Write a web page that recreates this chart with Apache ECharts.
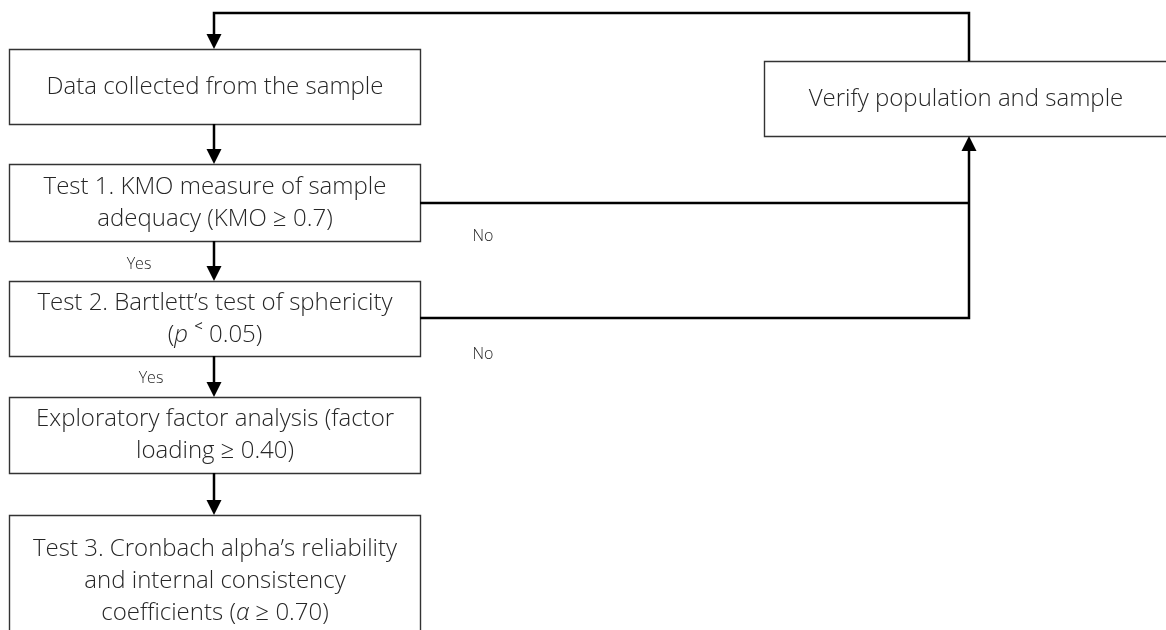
<!DOCTYPE html>
<html>
<head>
<meta charset="utf-8">
<script src="https://cdn.jsdelivr.net/npm/echarts@6/dist/echarts.min.js"></script>
<style>
html,body{margin:0;padding:0;background:#fff;}
#chart{width:1166px;height:630px;}
</style>
</head>
<body>
<div id="chart"></div>
<script>
// Flowchart content
const nodeTexts = [
  'Data collected from the sample',
  'Test 1. KMO measure of sample\nadequacy (KMO ≥ 0.7)',
  'Test 2. Bartlett’s test of sphericity\n({i|p} {s|<} 0.05)',
  'Exploratory factor analysis (factor\nloading ≥ 0.40)',
  'Test 3. Cronbach alpha’s reliability\nand internal consistency\ncoefficients ({i|α} ≥ 0.70)',
  'Verify population and sample'
];
// layout of boxes: [x0, y0, x1, y1]
const nodeBoxes = [
  [9, 49, 420, 124],
  [9, 164, 420, 241],
  [9, 281, 420, 356],
  [9, 397, 420, 473],
  [9, 515, 420, 646],
  [764, 61, 1167, 136]
];
// connector paths and whether they end with an arrow
const connectorPaths = [
  [[214, 124], [214, 164]],
  [[214, 241], [214, 281]],
  [[214, 356], [214, 397]],
  [[214, 473], [214, 515]],
  [[969, 61], [969, 13], [214, 13], [214, 49]],
  [[420, 203], [969, 203]],
  [[420, 318], [969, 318], [969, 136]]
];
const connectorArrow = [true, true, true, true, true, false, true];
// edge labels
const edgeLabelTexts = ['Yes', 'Yes', 'No', 'No'];
const edgeLabelPos = [[139, 264], [151, 378], [483, 236], [483, 354]];

const FONT = '"Open Sans", "Noto Sans", sans-serif';
const TEXT_COLOR = '#262626';

const chart = echarts.init(document.getElementById('chart'), null, {renderer: 'canvas'});

const option = {
  backgroundColor: '#ffffff',
  animation: false,
  grid: {left: 0, right: 0, top: 0, bottom: 0},
  xAxis: {type: 'value', min: 0, max: 1166, show: false},
  yAxis: {type: 'value', min: 0, max: 630, inverse: true, show: false},
  series: [
    {
      type: 'custom',
      name: 'boxes',
      coordinateSystem: 'cartesian2d',
      clip: false,
      data: nodeBoxes.map((b, i) => [b[0], b[1], b[2], b[3], i]),
      renderItem: function (params, api) {
        const p0 = api.coord([api.value(0), api.value(1)]);
        const p1 = api.coord([api.value(2), api.value(3)]);
        const idx = api.value(4);
        return {
          type: 'rect',
          shape: {x: p0[0] + 0.5, y: p0[1] + 0.5, width: p1[0] - p0[0], height: p1[1] - p0[1]},
          style: {fill: '#ffffff', stroke: '#333333', lineWidth: 1.4},
          textContent: {
            style: {
              text: nodeTexts[idx],
              font: '300 24px ' + FONT,
              fill: TEXT_COLOR,
              align: 'center',
              verticalAlign: 'middle',
              lineHeight: 32,
              rich: {
                i: {fontStyle: 'italic', fontWeight: 300, fontSize: 24, fontFamily: FONT, fill: TEXT_COLOR, lineHeight: 32},
                s: {fontWeight: 400, fontSize: 15, fontFamily: FONT, fill: TEXT_COLOR, lineHeight: 20, verticalAlign: 'top'}
              }
            }
          },
          textConfig: {position: 'inside'}
        };
      }
    },
    {
      type: 'custom',
      name: 'connectors',
      coordinateSystem: 'cartesian2d',
      clip: false,
      data: connectorPaths.map((p, i) => [p[0][0], p[0][1], i]),
      renderItem: function (params, api) {
        const idx = api.value(2);
        const pts = connectorPaths[idx].map(pt => api.coord(pt));
        const children = [];
        let linePts = pts.slice();
        if (connectorArrow[idx]) {
          const a = pts[pts.length - 2], b = pts[pts.length - 1];
          const dx = b[0] - a[0], dy = b[1] - a[1];
          const len = Math.sqrt(dx * dx + dy * dy);
          const ux = dx / len, uy = dy / len;
          const hl = 15, hw = 7.5;
          const base = [b[0] - ux * hl, b[1] - uy * hl];
          linePts[linePts.length - 1] = [b[0] - ux * (hl - 2), b[1] - uy * (hl - 2)];
          children.push({
            type: 'polygon',
            shape: {points: [b, [base[0] - uy * hw, base[1] + ux * hw], [base[0] + uy * hw, base[1] - ux * hw]]},
            style: {fill: '#000000'}
          });
        }
        children.unshift({
          type: 'polyline',
          shape: {points: linePts},
          style: {stroke: '#000000', lineWidth: 2.5, fill: null, lineJoin: 'miter'}
        });
        return {type: 'group', children: children};
      }
    },
    {
      type: 'custom',
      name: 'edgeLabels',
      coordinateSystem: 'cartesian2d',
      clip: false,
      data: edgeLabelPos.map((p, i) => [p[0], p[1], i]),
      renderItem: function (params, api) {
        const c = api.coord([api.value(0), api.value(1)]);
        return {
          type: 'text',
          x: c[0], y: c[1],
          style: {
            text: edgeLabelTexts[api.value(2)],
            font: '300 16px ' + FONT,
            fill: TEXT_COLOR,
            align: 'center',
            verticalAlign: 'middle'
          }
        };
      }
    }
  ]
};
chart.setOption(option);
</script>
</body>
</html>
